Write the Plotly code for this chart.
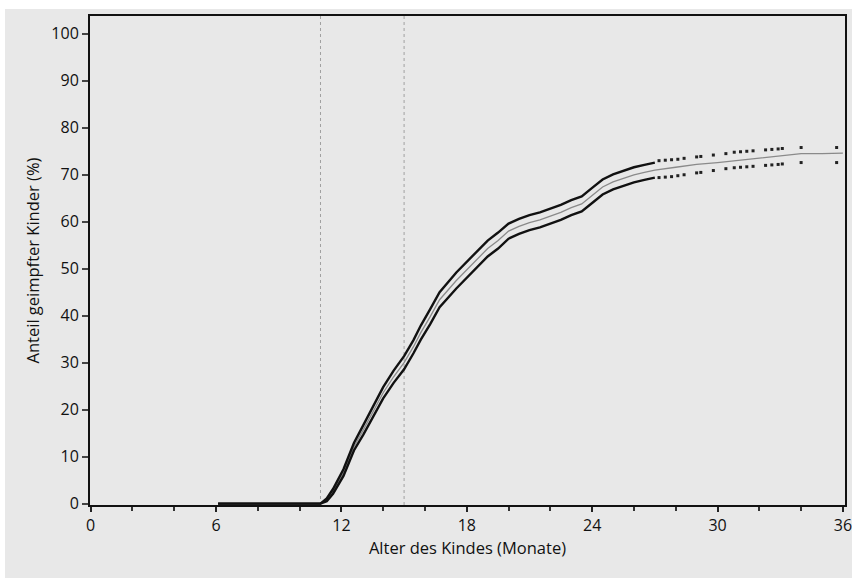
import plotly.graph_objects as go

# Kaplan-Meier style cumulative vaccination share (%) by child's age (months)
age = [6.1, 11.0, 11.3, 11.6, 12.1, 12.6, 13.05, 13.5, 14.0, 14.5, 15.0, 15.45,
       15.8, 16.25, 16.7, 17.5, 18.0, 18.5, 19.0, 19.5, 20.0, 20.5, 21.0, 21.5,
       22.0, 22.5, 23.0, 23.5, 24.0, 24.5, 25.0, 25.5, 26.0, 26.5, 27.0, 28.0,
       29.0, 30.0, 31.0, 32.0, 33.0, 34.0, 35.0, 36.0]
mid = [0, 0, 0.8, 2.6, 6.6, 12.1, 15.7, 19.4, 23.6, 27.0, 30.0, 33.4,
       36.4, 39.8, 43.4, 47.5, 49.8, 52.0, 54.3, 56.0, 58.0, 59.0, 59.8, 60.4,
       61.2, 62.0, 63.0, 63.8, 65.6, 67.4, 68.5, 69.3, 70.0, 70.5, 71.0, 71.6,
       72.2, 72.6, 73.1, 73.6, 74.0, 74.5, 74.5, 74.6]

band_age = [6.1, 11.0, 11.3, 11.6, 12.1, 12.6, 13.05, 13.5, 14.0, 14.5, 15.0, 15.45,
            15.8, 16.25, 16.7, 17.5, 18.0, 18.5, 19.0, 19.5, 20.0, 20.5, 21.0, 21.5,
            22.0, 22.5, 23.0, 23.5, 24.0, 24.5, 25.0, 25.5, 26.0, 26.5, 27.0]
upper = [0, 0, 1.1, 3.1, 7.3, 12.9, 16.7, 20.5, 24.8, 28.3, 31.4, 34.8,
         37.9, 41.4, 45.0, 49.2, 51.5, 53.7, 56.0, 57.7, 59.6, 60.6, 61.4, 62.0,
         62.8, 63.6, 64.6, 65.4, 67.2, 69.0, 70.1, 70.9, 71.6, 72.1, 72.6]
lower = [0, 0, 0.5, 2.1, 5.9, 11.3, 14.7, 18.3, 22.4, 25.7, 28.6, 32.0,
         34.9, 38.2, 41.8, 45.8, 48.1, 50.3, 52.6, 54.3, 56.4, 57.4, 58.2, 58.8,
         59.6, 60.4, 61.4, 62.2, 64.0, 65.8, 66.9, 67.7, 68.4, 68.9, 69.4]

tail_age = [27.2, 27.5, 27.8, 28.1, 28.4, 29.0, 29.2, 29.8, 30.4, 30.8, 31.1,
            31.4, 31.7, 32.3, 32.6, 32.9, 33.1, 34.0, 35.7]
tail_upper = [73.0, 73.1, 73.2, 73.3, 73.5, 73.8, 73.9, 74.2, 74.5, 74.8, 74.9,
              75.0, 75.1, 75.3, 75.4, 75.5, 75.6, 75.8, 75.8]
tail_lower = [69.4, 69.5, 69.6, 69.8, 70.0, 70.4, 70.5, 70.9, 71.3, 71.5, 71.6,
              71.7, 71.8, 72.0, 72.1, 72.2, 72.3, 72.6, 72.6]

vlines = [11.0, 15.0]
x_ticks = [0, 6, 12, 18, 24, 30, 36]
y_ticks = [0, 10, 20, 30, 40, 50, 60, 70, 80, 90, 100]

BG = "#e8e8e8"
FONT = "Open Sans, Noto Sans, sans-serif"

fig = go.Figure()

for xv in vlines:
    fig.add_trace(go.Scatter(x=[xv, xv], y=[-0.3, 103.8], mode="lines",
                             line=dict(color="#a0a0a0", width=1, dash="dot"),
                             hoverinfo="skip", showlegend=False))

fig.add_trace(go.Scatter(x=age, y=mid, mode="lines",
                         line=dict(color="#8a8a8a", width=1.3), showlegend=False))
fig.add_trace(go.Scatter(x=band_age, y=upper, mode="lines",
                         line=dict(color="#111111", width=2.4), showlegend=False))
fig.add_trace(go.Scatter(x=band_age, y=lower, mode="lines",
                         line=dict(color="#111111", width=2.4), showlegend=False))
fig.add_trace(go.Scatter(x=tail_age, y=tail_upper, mode="markers",
                         marker=dict(symbol="square", size=3, color="#222222"),
                         showlegend=False))
fig.add_trace(go.Scatter(x=tail_age, y=tail_lower, mode="markers",
                         marker=dict(symbol="square", size=3, color="#222222"),
                         showlegend=False))

fig.update_layout(
    width=856, height=578,
    margin=dict(l=90, r=11, t=16, b=73),
    paper_bgcolor="white",
    plot_bgcolor=BG,
    font=dict(family=FONT, size=16, color="#111111"),
    shapes=[dict(type="rect", xref="paper", yref="paper",
                 x0=-0.1126, x1=1.0093, y0=-0.1493, y1=1.0143,
                 fillcolor=BG, line=dict(width=0), layer="below")],
    xaxis=dict(range=[-0.03, 36.1], tickvals=x_ticks, ticks="outside",
               ticklen=5, tickwidth=1.5, tickcolor="#222",
               minor=dict(dtick=2, tick0=0, ticks="outside", ticklen=4,
                          tickwidth=1.5, tickcolor="#333", showgrid=False),
               showgrid=False, zeroline=False, showline=True, linecolor="#111",
               linewidth=2, mirror=True, automargin=False,
               title=dict(text="Alter des Kindes (Monate)", standoff=6,
                          font=dict(size=16.5)),
               tickfont=dict(size=16)),
    yaxis=dict(range=[-0.3, 103.8], tickvals=y_ticks, ticks="outside",
               ticklen=6, tickwidth=1.5, tickcolor="#444",
               showgrid=False, zeroline=False, showline=True, linecolor="#111",
               linewidth=2, mirror=True, automargin=False,
               title=dict(text="Anteil geimpfter Kinder (%)", standoff=8,
                          font=dict(size=16.5)),
               tickfont=dict(size=16)),
)

fig.write_html("out.html",
               config={"displayModeBar": False},
               post_script="document.body.style.margin='0';document.body.style.overflow='hidden';")
